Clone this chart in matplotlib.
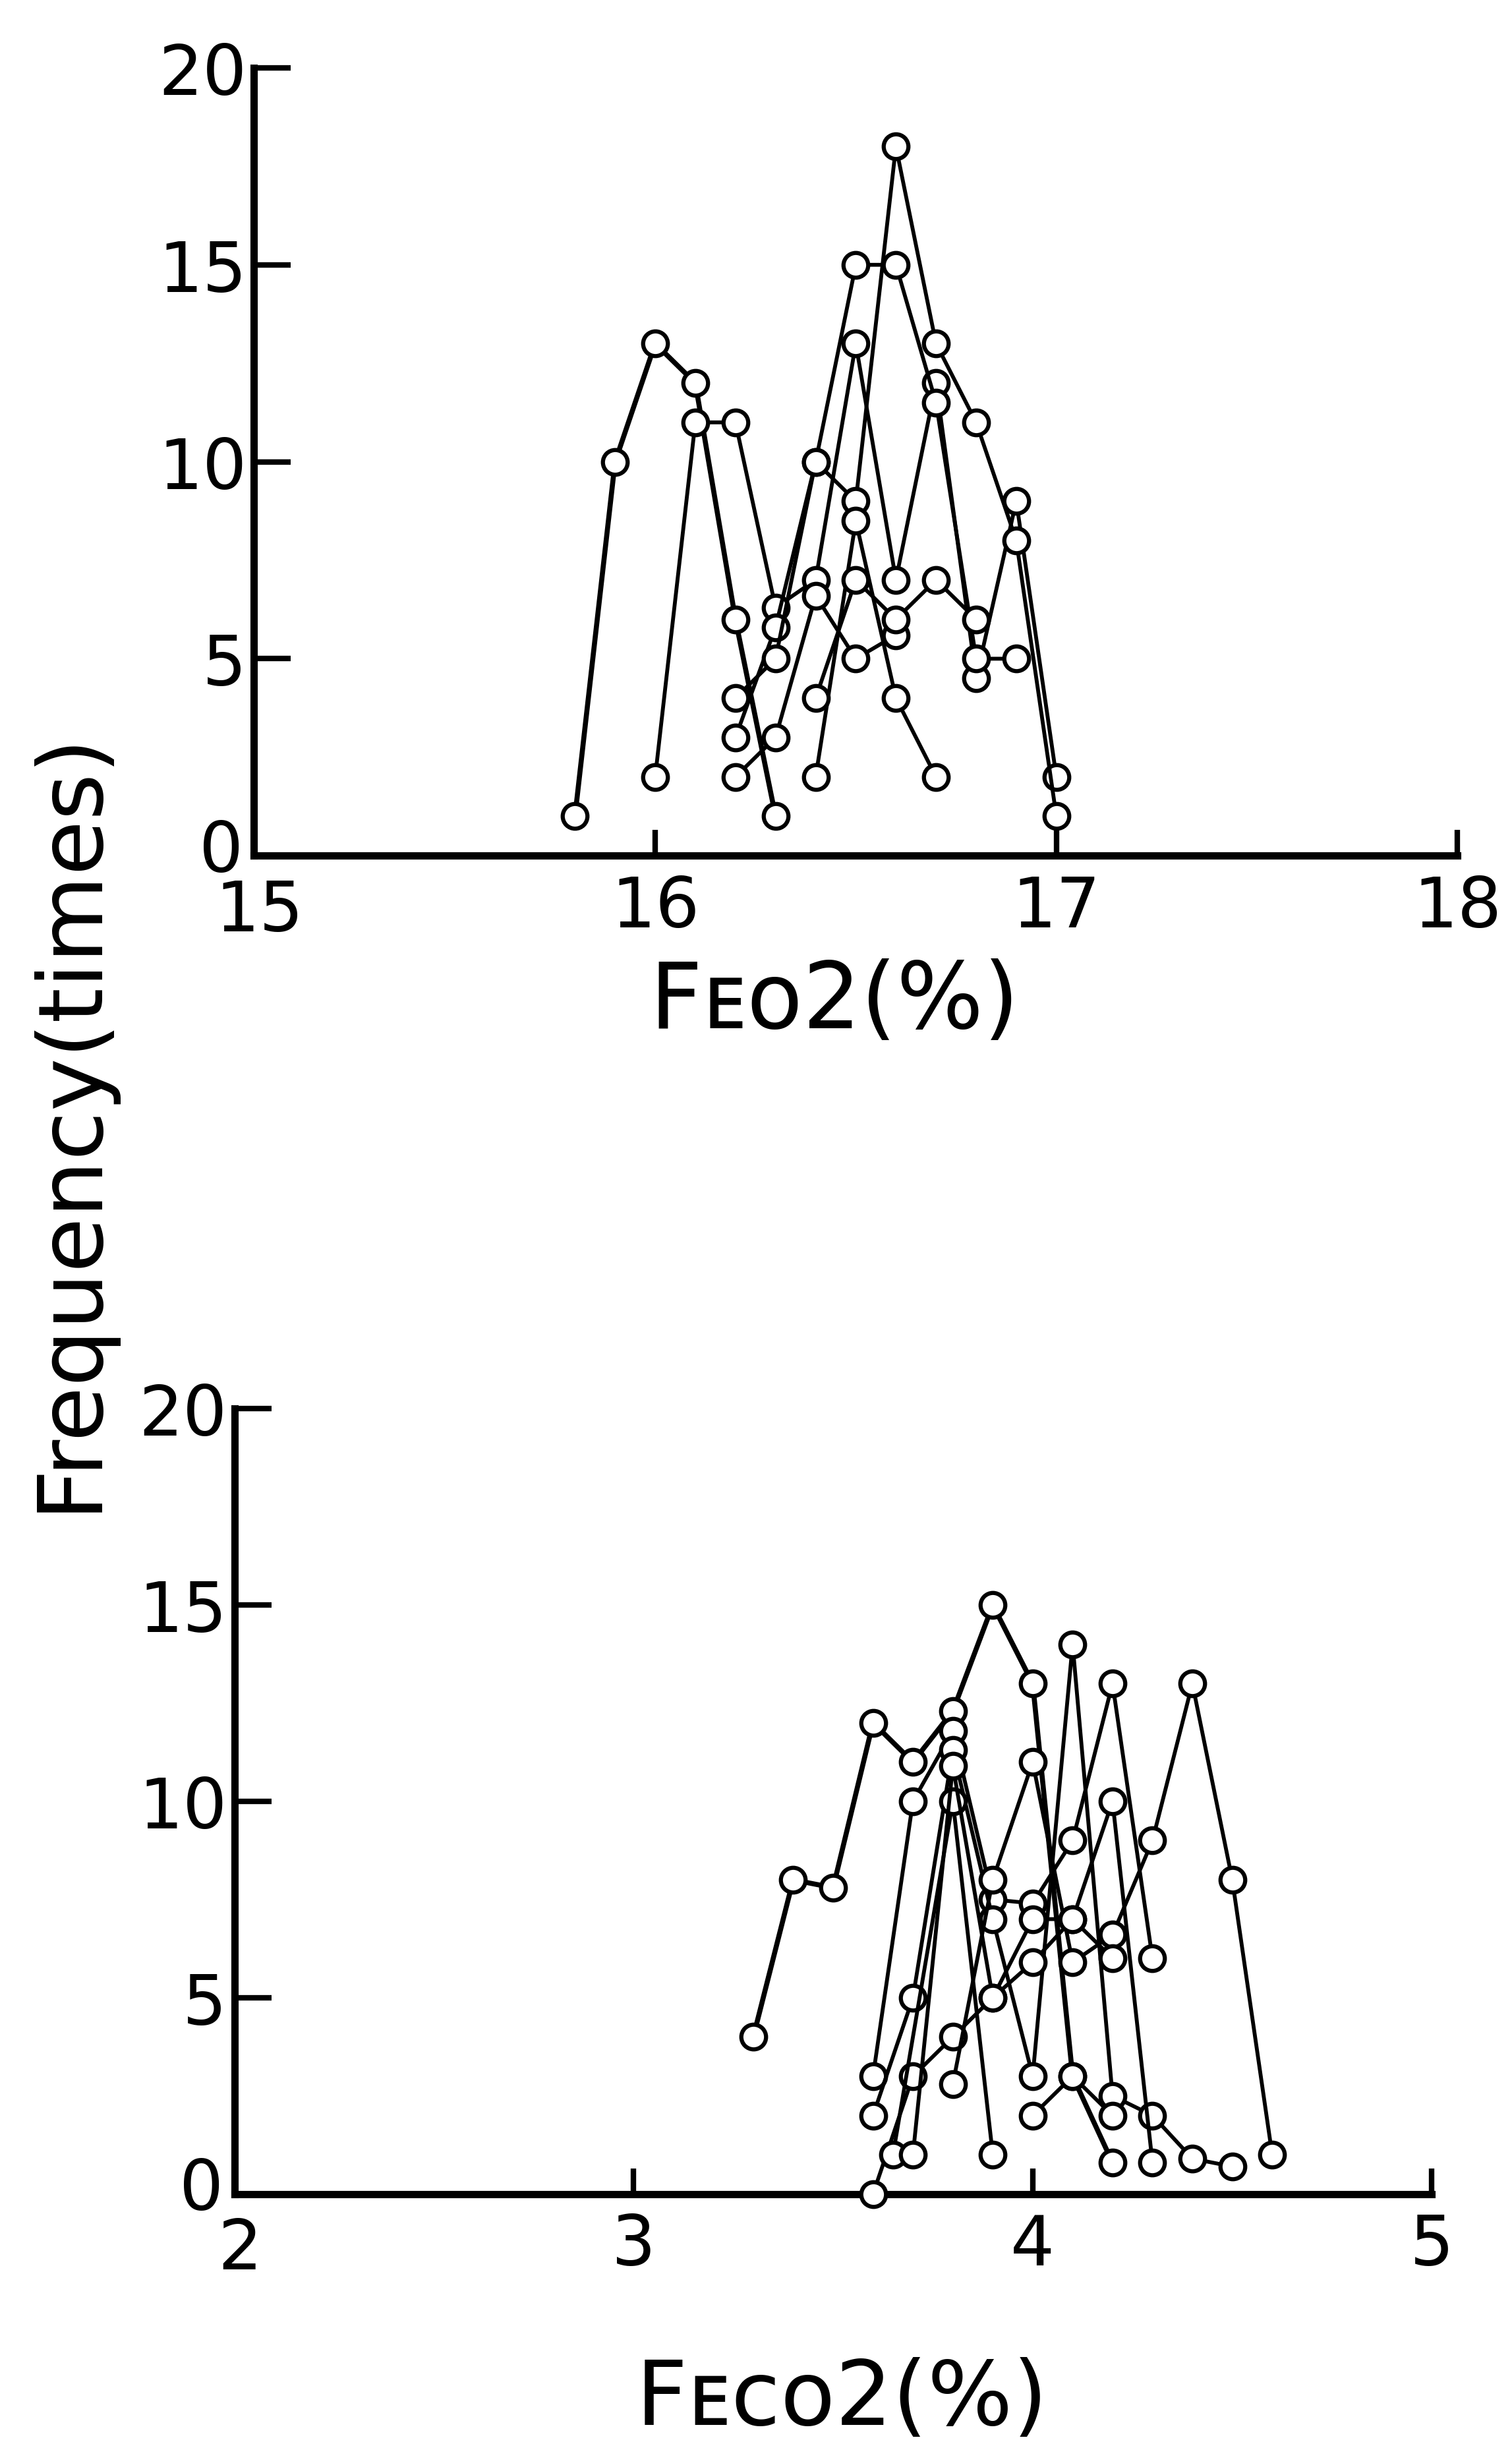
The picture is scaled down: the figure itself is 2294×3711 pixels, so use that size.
import matplotlib
matplotlib.use("Agg")
import matplotlib.pyplot as plt
from matplotlib.transforms import ScaledTranslation

plt.rcParams['font.family'] = ['DejaVu Sans']

# ---------------- data (top panel: FEO2 %) ----------------
top_s1_x = [15.8, 15.9, 16.0, 16.1, 16.2, 16.3]
top_s1_y = [1, 10, 13, 12, 6, 1]
top_s2_x = [16.0, 16.1, 16.2, 16.3, 16.4, 16.5, 16.6, 16.7, 16.8, 16.9, 17.0]
top_s2_y = [2, 11, 11, 6.3, 7, 13, 7, 12, 4.5, 9, 2]
top_s3_x = [16.2, 16.3, 16.4, 16.5, 16.6]
top_s3_y = [2, 3, 6.6, 5, 5.6]
top_s4_x = [16.2, 16.3, 16.4, 16.5, 16.6, 16.7, 16.8, 16.9]
top_s4_y = [3, 5.8, 10, 15, 15, 11.5, 5, 5]
top_s5_x = [16.2, 16.3, 16.4, 16.5, 16.6, 16.7, 16.8, 16.9, 17.0]
top_s5_y = [4, 5, 10, 9, 18, 13, 11, 8, 1]
top_s6_x = [16.4, 16.5, 16.6, 16.7]
top_s6_y = [2, 8.5, 4, 2]
top_s7_x = [16.4, 16.5, 16.6, 16.7, 16.8]
top_s7_y = [4, 7, 6, 7, 6]

# ---------------- data (bottom panel: FECO2 %) ----------------
bot_s1_x = [3.3, 3.4, 3.5, 3.6, 3.7, 3.8, 3.9, 4.0, 4.1, 4.2]
bot_s1_y = [4, 8, 7.8, 12, 11, 12.3, 15, 13, 3, 0.8]
bot_s2_x = [3.6, 3.7, 3.8, 3.9, 4.0, 4.1, 4.2, 4.3]
bot_s2_y = [3, 10, 11.8, 7.5, 7.4, 9, 13, 6]
bot_s3_x = [3.6, 3.7, 3.8, 3.9, 4.0, 4.1, 4.2, 4.3, 4.4, 4.5]
bot_s3_y = [2, 5, 11.3, 7, 3, 14, 2.5, 2, 0.9, 0.7]
bot_s4_x = [3.6, 3.7, 3.8, 3.9, 4.0, 4.1, 4.2, 4.3]
bot_s4_y = [0, 3, 4, 5, 5.9, 7, 10, 0.8]
bot_s5_x = [3.65, 3.8, 3.9]
bot_s5_y = [1, 10, 1]
bot_s6_x = [3.8, 3.9, 4.0, 4.1, 4.2, 4.3, 4.4, 4.5, 4.6]
bot_s6_y = [2.8, 8, 11, 5.9, 6.6, 9, 13, 8, 1]
bot_s7_x = [3.7, 3.8, 3.9, 4.0, 4.1, 4.2]
bot_s7_y = [1, 10.9, 5, 7, 7, 6]
bot_s8_x = [4.0, 4.1, 4.2]
bot_s8_y = [2, 3, 2]

top_series = [(top_s1_x, top_s1_y), (top_s2_x, top_s2_y), (top_s3_x, top_s3_y),
              (top_s4_x, top_s4_y), (top_s5_x, top_s5_y), (top_s6_x, top_s6_y),
              (top_s7_x, top_s7_y)]
bot_series = [(bot_s1_x, bot_s1_y), (bot_s2_x, bot_s2_y), (bot_s3_x, bot_s3_y),
              (bot_s4_x, bot_s4_y), (bot_s5_x, bot_s5_y), (bot_s6_x, bot_s6_y),
              (bot_s7_x, bot_s7_y), (bot_s8_x, bot_s8_y)]

top_xticks = [15, 16, 17, 18]
bot_xticks = [2, 3, 4, 5]
yticks = [0, 5, 10, 15, 20]

fig = plt.figure(figsize=(22.94, 37.12), dpi=100)
ax1 = fig.add_axes([0.168, 0.650, 0.796, 0.322])
ax2 = fig.add_axes([0.155, 0.103, 0.792, 0.321])


def style(ax, xlim, xticks):
    ax.set_xlim(*xlim)
    ax.set_ylim(0, 20)
    for s in ['top', 'right']:
        ax.spines[s].set_visible(False)
    for s in ['left', 'bottom']:
        ax.spines[s].set_linewidth(8)
        ax.spines[s].set_capstyle('projecting')
    ax.set_xticks(xticks)
    ax.set_yticks(yticks)
    ax.tick_params(axis='y', direction='in', length=40, width=6, labelsize=76, pad=8)
    ax.tick_params(axis='x', direction='in', length=28, width=6, labelsize=76, pad=20)
    ax.patch.set_alpha(0)
    # nudge the corner labels apart, as in the original drawing
    ylab0 = ax.get_yticklabels()[0]
    ylab0.set_transform(ylab0.get_transform() +
                        ScaledTranslation(-4 / 72, 12 / 72, fig.dpi_scale_trans))
    xlab0 = ax.get_xticklabels()[0]
    xlab0.set_transform(xlab0.get_transform() +
                        ScaledTranslation(6 / 72, -4 / 72, fig.dpi_scale_trans))


def draw(ax, series):
    for i, (xs, ys) in enumerate(series):
        ax.plot(xs, ys, color='black', lw=5.5 if i == 0 else 4.2, marker='o', ms=27,
                mfc='white', mec='black', mew=4.5, clip_on=False, zorder=3)


style(ax1, (15, 18), top_xticks)
style(ax2, (2, 5), bot_xticks)
draw(ax1, top_series)
draw(ax2, bot_series)

lab_fam = ['DejaVu Sans']
fig.text(0.046, 0.542, 'Frequency(times)', rotation=90, ha='center', va='center',
         fontsize=98, family=lab_fam)
fig.text(0.552, 0.590, 'F\u1d07\u1d0f2(%)', ha='center', va='center', fontsize=100,
         family=lab_fam)
fig.text(0.557, 0.019, 'F\u1d07\u1d04\u1d0f2(%)', ha='center', va='center', fontsize=98,
         family=lab_fam)

fig.savefig('out.png', dpi=100, facecolor='white')
